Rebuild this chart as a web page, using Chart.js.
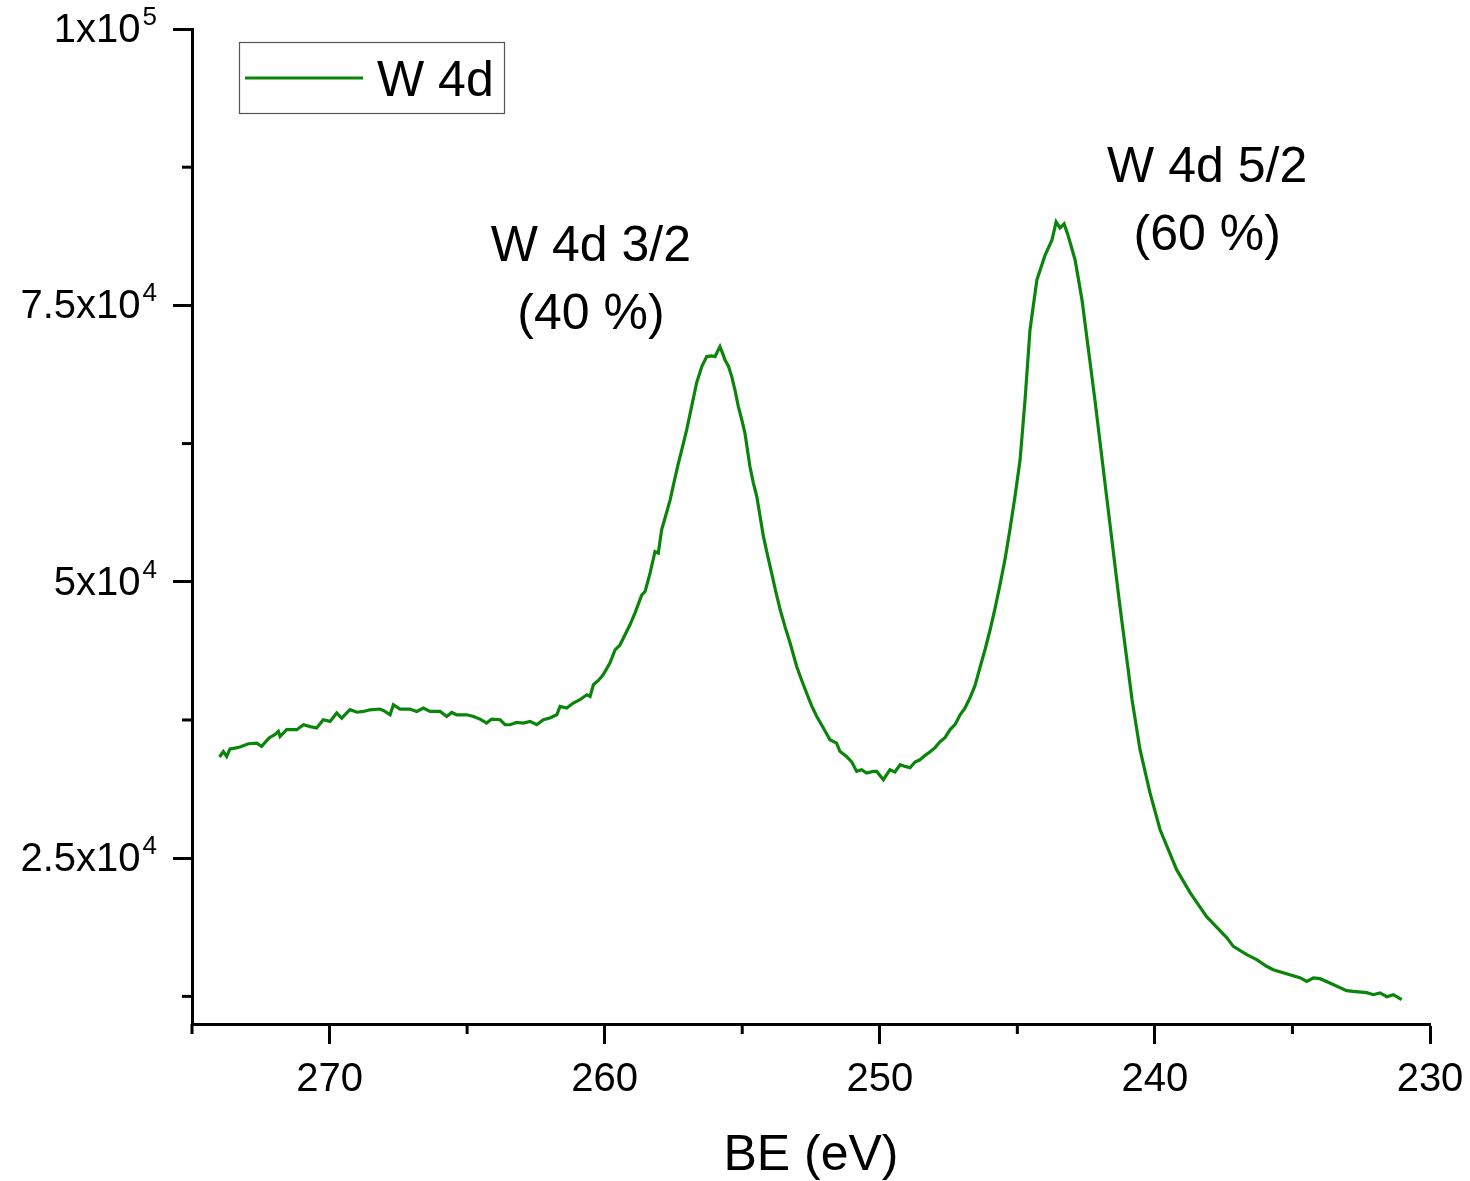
<!DOCTYPE html>
<html>
<head>
<meta charset="utf-8">
<script src="https://cdn.jsdelivr.net/npm/chart.js@4.4.1/dist/chart.umd.min.js"></script>
<style>
  html, body { margin: 0; padding: 0; background: #fff; }
  #wrap { width: 1470px; height: 1181px; }
</style>
</head>
<body>
<div id="wrap"><canvas id="xps"></canvas></div>
<script>
// W 4d spectrum (BE in eV, intensity in counts)
const bindingEnergy = [
  274.00, 273.86, 273.74, 273.62, 273.44, 273.26, 272.95, 272.65, 272.47, 272.20,
  271.98, 271.86, 271.80, 271.56, 271.19, 270.95, 270.70, 270.47, 270.23, 269.98,
  269.74, 269.56, 269.26, 269.00, 268.77, 268.53, 268.17, 268.00, 267.80, 267.68,
  267.44, 267.08, 266.83, 266.59, 266.35, 265.98, 265.74, 265.56, 265.38, 265.01,
  264.77, 264.53, 264.29, 264.11, 263.80, 263.62, 263.44, 263.20, 262.96, 262.71,
  262.47, 262.23, 261.99, 261.74, 261.62, 261.38, 261.14, 260.90, 260.65, 260.53,
  260.41, 260.22, 260.05, 259.81, 259.62, 259.44, 259.26, 259.08, 258.90, 258.65,
  258.53, 258.35, 258.17, 258.05, 257.93, 257.78, 257.62, 257.47, 257.32, 257.17,
  257.02, 256.84, 256.66, 256.47, 256.29, 256.11, 255.99, 255.81, 255.69, 255.63,
  255.50, 255.38, 255.26, 255.14, 255.02, 254.90, 254.72, 254.60, 254.47, 254.35,
  254.23, 254.08, 253.93, 253.78, 253.62, 253.44, 253.26, 253.02, 252.84, 252.66,
  252.48, 252.29, 252.05, 251.81, 251.57, 251.45, 251.21, 251.02, 250.84, 250.66,
  250.48, 250.24, 250.11, 249.87, 249.63, 249.45, 249.26, 249.08, 248.90, 248.72,
  248.54, 248.35, 248.17, 247.99, 247.81, 247.63, 247.45, 247.26, 247.08, 246.90,
  246.72, 246.54, 246.36, 246.17, 245.99, 245.81, 245.63, 245.45, 245.27, 245.08,
  244.90, 244.72, 244.54, 244.29, 243.99, 243.74, 243.59, 243.45, 243.30, 243.16,
  242.90, 242.65, 242.18, 241.74, 241.30, 240.83, 240.54, 240.18, 239.81, 239.21,
  238.72, 238.12, 237.39, 237.15, 236.66, 236.30, 235.94, 235.70, 234.73, 234.48,
  234.24, 234.00, 233.64, 233.03, 232.79, 232.30, 232.06, 231.82, 231.57, 231.33,
  231.03
];
const intensity = [
  34150, 34650, 34200, 34870, 34950, 35050, 35350, 35400, 35110, 35870,
  36200, 36470, 36000, 36620, 36620, 37070, 36900, 36770, 37520, 37370,
  38130, 37670, 38430, 38200, 38270, 38420, 38490, 38300, 37970, 38880,
  38490, 38490, 38270, 38580, 38270, 38270, 37820, 38180, 37970, 37970,
  37820, 37580, 37220, 37580, 37520, 37070, 37070, 37280, 37220, 37370,
  37070, 37520, 37680, 37970, 38730, 38580, 39030, 39330, 39780, 39630,
  40690, 41100, 41600, 42650, 43850, 44300, 45210, 46110, 47170, 48820,
  49120, 50780, 52740, 52590, 54700, 56000, 57410, 59100, 60730, 62200,
  63740, 65850, 67970, 69470, 70370, 70430, 70370, 71270, 70520, 70070,
  69500, 68560, 67300, 65850, 64700, 63440, 60430, 59000, 57710, 55900,
  54100, 52400, 50790, 49100, 47470, 45900, 44460, 42340, 41100, 39940,
  38800, 37820, 36770, 35710, 35410, 34660, 34200, 33700, 32850, 33000,
  32700, 32850, 32850, 32100, 33000, 32800, 33450, 33300, 33180, 33700,
  33900, 34300, 34630, 35000, 35530, 35900, 36610, 37100, 37970, 38600,
  39510, 40600, 42220, 43900, 45660, 47600, 49730, 52000, 54700, 57800,
  61030, 66450, 72780, 77300, 79560, 80920, 82550, 82010, 82370, 81370,
  79110, 75500, 66450, 57410, 48370, 39330, 34810, 30920, 27570, 23960,
  21880, 19710, 17810, 17020, 16270, 15820, 15220, 14910, 14190, 13860,
  14160, 14100, 13710, 13020, 12950, 12840, 12650, 12810, 12470, 12650,
  12200
];

const xMajorTicks = [270, 260, 250, 240, 230];
const xMinorTicks = [275, 265, 255, 245, 235];
const yMajorTicks = [25000, 50000, 75000, 100000];
const yMinorTicks = [12500, 37500, 62500, 87500];
const yTickLabels = [["2.5x10", "4"], ["5x10", "4"], ["7.5x10", "4"], ["1x10", "5"]];
const seriesName = "W 4d";
const xTitle = "BE (eV)";
const peakNotes = [
  { lines: ["W 4d 3/2", "(40 %)"], be: 260.5, counts: 80300 },
  { lines: ["W 4d 5/2", "(60 %)"], be: 238.1, counts: 87400 }
];

const FONT = '"Liberation Sans", Arial, Helvetica, sans-serif';
const GREEN = "#0b840b";

const points = bindingEnergy.map((be, i) => ({ x: be, y: intensity[i] }));

// minor ticks, tick labels, legend box and peak notes
const decorPlugin = {
  id: "decor",
  afterDraw(chart) {
    const { ctx, chartArea: area, scales } = chart;
    const x = scales.x, y = scales.y;
    ctx.save();
    ctx.strokeStyle = "#000";
    ctx.lineWidth = 3;
    ctx.lineCap = "butt";

    xMinorTicks.forEach((v) => {
      const px = x.getPixelForValue(v);
      ctx.beginPath();
      ctx.moveTo(px, area.bottom);
      ctx.lineTo(px, area.bottom + 10);
      ctx.stroke();
    });
    yMinorTicks.forEach((v) => {
      const py = y.getPixelForValue(v);
      ctx.beginPath();
      ctx.moveTo(area.left - 10, py);
      ctx.lineTo(area.left, py);
      ctx.stroke();
    });

    ctx.fillStyle = "#000";
    ctx.textBaseline = "alphabetic";

    // x tick labels
    ctx.font = "40px " + FONT;
    ctx.textAlign = "center";
    xMajorTicks.forEach((v) => {
      ctx.fillText(String(v), x.getPixelForValue(v), area.bottom + 67);
    });

    // y tick labels with superscript exponent
    const labelRight = area.left - 35;
    yMajorTicks.forEach((v, i) => {
      const py = y.getPixelForValue(v);
      const [base, exp] = yTickLabels[i];
      ctx.font = "26px " + FONT;
      ctx.textAlign = "right";
      const expW = ctx.measureText(exp).width;
      ctx.fillText(exp, labelRight, py - 4);
      ctx.font = "40px " + FONT;
      ctx.fillText(base, labelRight - expW - 2, py + 13);
    });

    // axis title
    ctx.font = "50px " + FONT;
    ctx.textAlign = "center";
    ctx.fillText(xTitle, (area.left + area.right) / 2, 1170);

    // peak notes
    ctx.textBaseline = "middle";
    peakNotes.forEach((n) => {
      const cx = x.getPixelForValue(n.be);
      const cy = y.getPixelForValue(n.counts);
      n.lines.forEach((t, k) => ctx.fillText(t, cx, cy + k * 68));
    });

    // legend
    ctx.strokeStyle = "#555";
    ctx.lineWidth = 1.2;
    ctx.strokeRect(239.5, 42.5, 265, 71);
    ctx.strokeStyle = chart.data.datasets[0].borderColor;
    ctx.lineWidth = 3;
    ctx.beginPath();
    ctx.moveTo(245, 78);
    ctx.lineTo(363, 78);
    ctx.stroke();
    ctx.font = "50px " + FONT;
    ctx.textAlign = "left";
    ctx.textBaseline = "alphabetic";
    ctx.fillText(chart.data.datasets[0].label, 377, 96);

    ctx.restore();
  }
};

new Chart(document.getElementById("xps"), {
  type: "line",
  data: {
    datasets: [
      {
        label: seriesName,
        data: points,
        borderColor: GREEN,
        borderWidth: 3.2,
        pointRadius: 0,
        tension: 0,
        fill: false
      }
    ]
  },
  options: {
    responsive: true,
    maintainAspectRatio: false,
    animation: false,
    layout: { padding: { top: 29, right: 40, left: 0, bottom: 0 } },
    plugins: {
      legend: { display: false },
      tooltip: { enabled: false }
    },
    scales: {
      x: {
        type: "linear",
        min: 230,
        max: 275,
        reverse: true,
        afterBuildTicks: (s) => { s.ticks = xMajorTicks.map((v) => ({ value: v })); },
        afterFit: (s) => { s.height = 157; },
        ticks: { display: false },
        grid: {
          drawOnChartArea: false,
          drawTicks: true,
          tickLength: 20,
          tickWidth: 3,
          tickColor: "#000"
        },
        border: { display: true, color: "#000", width: 3 }
      },
      y: {
        type: "linear",
        min: 10000,
        max: 100000,
        afterBuildTicks: (s) => { s.ticks = yMajorTicks.map((v) => ({ value: v })); },
        afterFit: (s) => { s.width = 192; },
        ticks: { display: false },
        grid: {
          drawOnChartArea: false,
          drawTicks: true,
          tickLength: 19,
          tickWidth: 3,
          tickColor: "#000"
        },
        border: { display: true, color: "#000", width: 3 }
      }
    }
  },
  plugins: [decorPlugin]
});
</script>
</body>
</html>
